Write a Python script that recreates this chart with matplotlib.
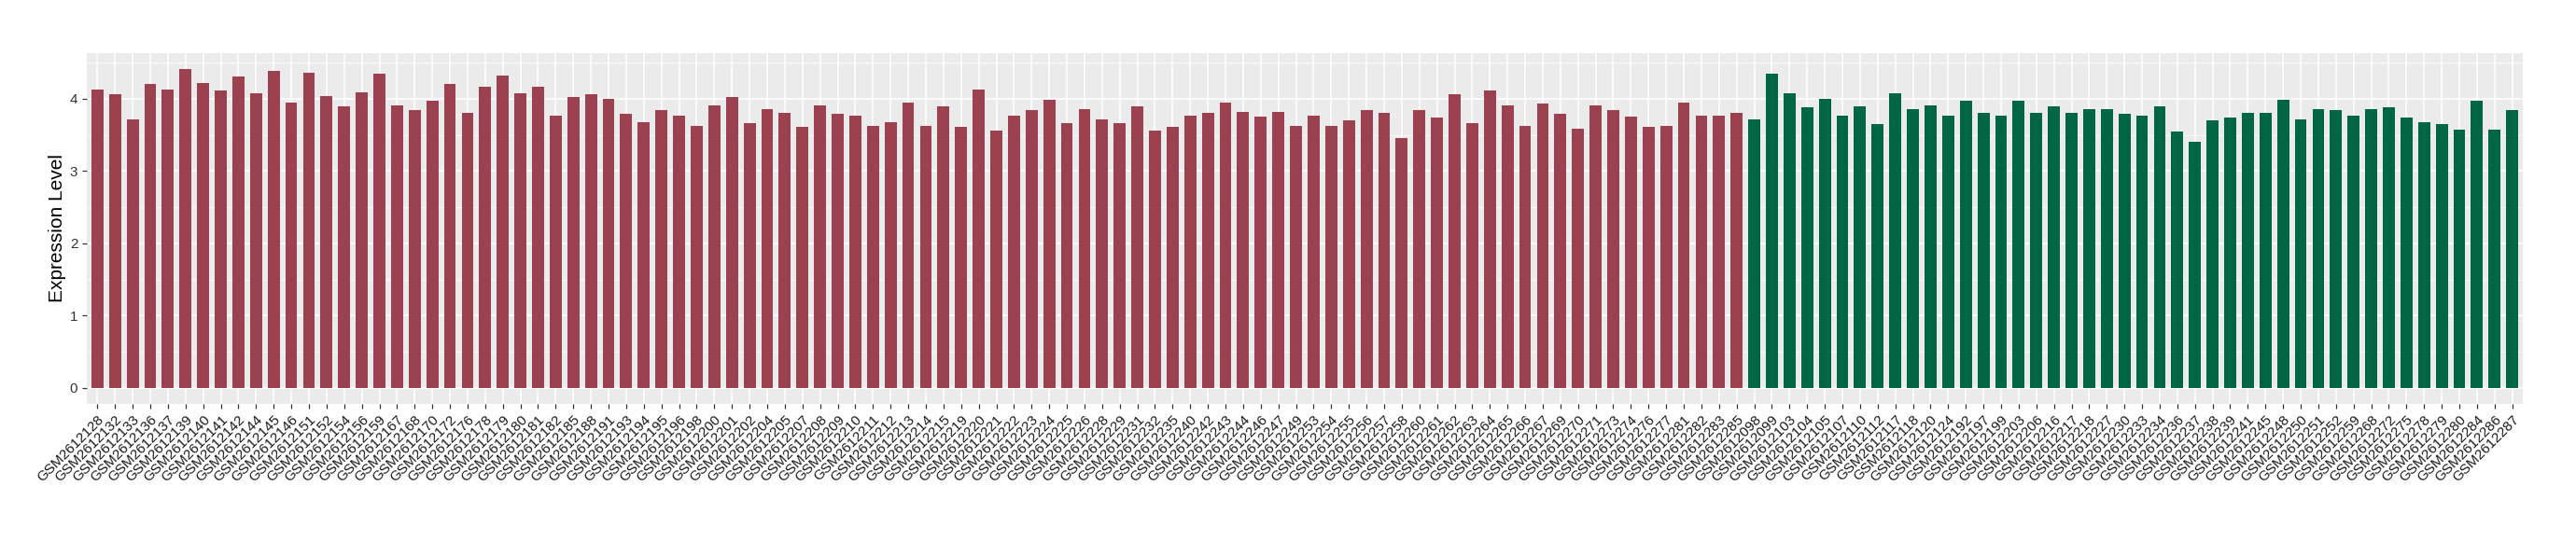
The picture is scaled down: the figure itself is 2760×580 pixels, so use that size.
import numpy as np
import matplotlib
matplotlib.use("Agg")
import matplotlib.pyplot as plt
from matplotlib.ticker import MultipleLocator

plt.rcParams['font.family'] = ['Liberation Sans', 'DejaVu Sans']

# group 1 (red) samples and expression values
red_ids = [128, 132, 133, 136, 137, 139, 140, 141, 142, 144,
           145, 146, 151, 152, 154, 156, 159, 167, 168, 170,
           172, 176, 178, 179, 180, 181, 182, 185, 188, 191,
           193, 194, 195, 196, 198, 200, 201, 202, 204, 205,
           207, 208, 209, 210, 211, 212, 213, 214, 215, 219,
           220, 221, 222, 223, 224, 225, 226, 228, 229, 231,
           232, 235, 240, 242, 243, 244, 246, 247, 249, 253,
           254, 255, 256, 257, 258, 260, 261, 262, 263, 264,
           265, 266, 267, 269, 270, 271, 273, 274, 276, 277,
           281, 282, 283, 285]
red_values = [4.13, 4.06, 3.72, 4.20, 4.13, 4.41, 4.22, 4.12, 4.31, 4.07,
              4.38, 3.95, 4.36, 4.04, 3.89, 4.09, 4.35, 3.91, 3.84, 3.97,
              4.20, 3.81, 4.16, 4.32, 4.08, 4.17, 3.77, 4.03, 4.06, 4.00,
              3.79, 3.67, 3.84, 3.76, 3.62, 3.91, 4.03, 3.66, 3.86, 3.81,
              3.61, 3.91, 3.79, 3.77, 3.63, 3.68, 3.94, 3.62, 3.89, 3.61,
              4.13, 3.56, 3.76, 3.84, 3.98, 3.66, 3.86, 3.71, 3.66, 3.89,
              3.56, 3.61, 3.76, 3.81, 3.95, 3.82, 3.75, 3.82, 3.62, 3.76,
              3.63, 3.70, 3.84, 3.81, 3.45, 3.84, 3.74, 4.06, 3.66, 4.12,
              3.91, 3.63, 3.93, 3.79, 3.59, 3.91, 3.84, 3.75, 3.61, 3.62,
              3.95, 3.77, 3.77, 3.81]

# group 2 (green) samples and expression values
green_ids = [2098, 2099, 2103, 2104, 2105, 2107, 2110, 2112, 2117, 2118,
             2120, 2124, 2192, 2197, 2199, 2203, 2206, 2216, 2217, 2218,
             2227, 2230, 2233, 2234, 2236, 2237, 2238, 2239, 2241, 2245,
             2248, 2250, 2251, 2252, 2259, 2268, 2272, 2275, 2278, 2279,
             2280, 2284, 2286, 2287]
green_values = [3.72, 4.35, 4.07, 3.88, 4.00, 3.76, 3.89, 3.65, 4.07, 3.86,
                3.91, 3.77, 3.97, 3.81, 3.77, 3.97, 3.81, 3.90, 3.81, 3.86,
                3.86, 3.79, 3.76, 3.90, 3.54, 3.41, 3.70, 3.74, 3.81, 3.81,
                3.99, 3.71, 3.86, 3.84, 3.77, 3.85, 3.88, 3.74, 3.67, 3.65,
                3.57, 3.97, 3.57, 3.84]

labels = ['GSM2612%d' % i for i in red_ids] + ['GSM261%d' % i for i in green_ids]
values = red_values + green_values
colors = ['#9B4150'] * len(red_values) + ['#006644'] * len(green_values)

fig = plt.figure(figsize=(27.6, 5.8), dpi=100)
ax = fig.add_axes([93 / 2760, 1 - 433 / 580, (2703 - 93) / 2760, (433 - 57) / 580])

x = np.arange(len(values))
ax.set_facecolor('#EBEBEB')
ax.bar(x, values, width=0.68, color=colors, zorder=3)

ax.set_xlim(-0.6, len(values) - 1 + 0.6)
ax.set_ylim(-0.221, 4.63)
ax.yaxis.set_major_locator(MultipleLocator(1))
ax.yaxis.set_minor_locator(MultipleLocator(0.5))
ax.set_xticks(x)
ax.set_xticklabels(labels, rotation=45, ha='right', va='top',
                   rotation_mode='anchor', fontsize=11, color='#1A1A1A')
ax.tick_params(axis='y', labelsize=11, labelcolor='#333333')
ax.tick_params(axis='both', which='major', color='#333333', length=3.5, width=0.9)
ax.tick_params(axis='y', which='minor', length=0)

ax.grid(which='major', color='white', linewidth=1.1, zorder=0)
ax.grid(which='minor', axis='y', color='white', linewidth=0.55, zorder=0)
ax.set_axisbelow(True)
for s in ax.spines.values():
    s.set_visible(False)

ax.set_ylabel('Expression Level', fontsize=15, labelpad=2.5)

fig.savefig('out.png', dpi=100)
